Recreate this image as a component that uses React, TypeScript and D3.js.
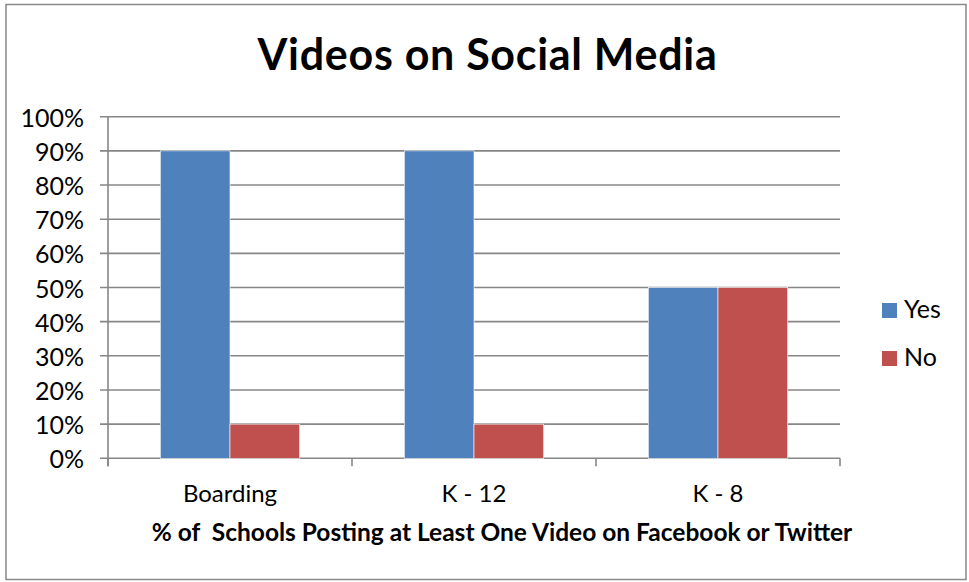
import React from "react";
import * as d3 from "d3";

const categories = ["Boarding", "K - 12", "K - 8"];
const seriesNames = ["Yes", "No"];
const yesValues = [0.9, 0.9, 0.5];
const noValues = [0.1, 0.1, 0.5];
const yTicks = [0, 0.1, 0.2, 0.3, 0.4, 0.5, 0.6, 0.7, 0.8, 0.9, 1.0];
const colors = ["#4F81BD", "#C0504D"];
const title = "Videos on Social Media";
const xTitle = "% of  Schools Posting at Least One Video on Facebook or Twitter";

const W = 969;
const H = 582;
const FONT = "Lato, 'Open Sans', sans-serif";

export default function App() {
  const left = 108, right = 840, top = 116.7, bottom = 458.3;
  const x = d3.scaleBand<string>().domain(categories).range([left, right]).paddingInner(0).paddingOuter(0);
  const y = d3.scaleLinear().domain([0, 1]).range([bottom, top]);
  // Excel gap width 150%: gap = 1.5 bar widths -> outer padding 0.75 bar each side
  const inner = d3.scaleBand<string>().domain(seriesNames).range([0, x.bandwidth()]).paddingInner(0).paddingOuter(0.75);
  const data = [yesValues, noValues];
  const fmt = d3.format(".0%");
  const boundaries = [...categories.map((c) => x(c) as number), right];

  return (
    <div style={{ position: "fixed", left: 0, top: 0, width: W, height: H, background: "#fff" }}>
      <svg width={W} height={H} style={{ display: "block" }} fontFamily={FONT}>
        <rect x={6} y={4.5} width={960} height={575} fill="#fff" stroke="#898989" strokeWidth={1.5} />
        <text x={487.5} y={70} textAnchor="middle" fontSize={43} fontWeight="bold" letterSpacing={0.7} fill="#000">
          {title}
        </text>
        {yTicks.map((t) => (
          <g key={t}>
            <line x1={100} x2={right} y1={y(t)} y2={y(t)} stroke="#878787" strokeWidth={1.6} />
            <text x={84} y={y(t) + 10} textAnchor="end" fontSize={25} fill="#000">
              {fmt(t)}
            </text>
          </g>
        ))}
        <line x1={left} x2={left} y1={top} y2={bottom + 8} stroke="#878787" strokeWidth={1.6} />
        {boundaries.map((b, i) => (
          <line key={i} x1={b} x2={b} y1={bottom} y2={bottom + 8} stroke="#878787" strokeWidth={1.6} />
        ))}
        {categories.map((c, ci) => (
          <g key={c}>
            {seriesNames.map((s, si) => {
              const v = data[si][ci];
              const bx = (x(c) as number) + (inner(s) as number);
              return (
                <rect
                  key={s}
                  x={bx}
                  y={y(v)}
                  width={inner.bandwidth()}
                  height={bottom - y(v)}
                  fill={colors[si]}
                  stroke="#fff"
                  strokeWidth={0.6}
                />
              );
            })}
            <text x={(x(c) as number) + x.bandwidth() / 2} y={502} textAnchor="middle" fontSize={24} fill="#000">
              {c}
            </text>
          </g>
        ))}
        <text
          x={502}
          y={541}
          textAnchor="middle"
          fontSize={24.5}
          fontWeight="bold"
          fill="#000"
          style={{ whiteSpace: "pre" }}
          xmlSpace="preserve"
        >
          {xTitle}
        </text>
        {seriesNames.map((s, i) => (
          <g key={s}>
            <rect x={882} y={303 + i * 48} width={15} height={15} fill={colors[i]} />
            <text x={904} y={318 + i * 48} fontSize={25} fill="#000">
              {s}
            </text>
          </g>
        ))}
      </svg>
    </div>
  );
}
